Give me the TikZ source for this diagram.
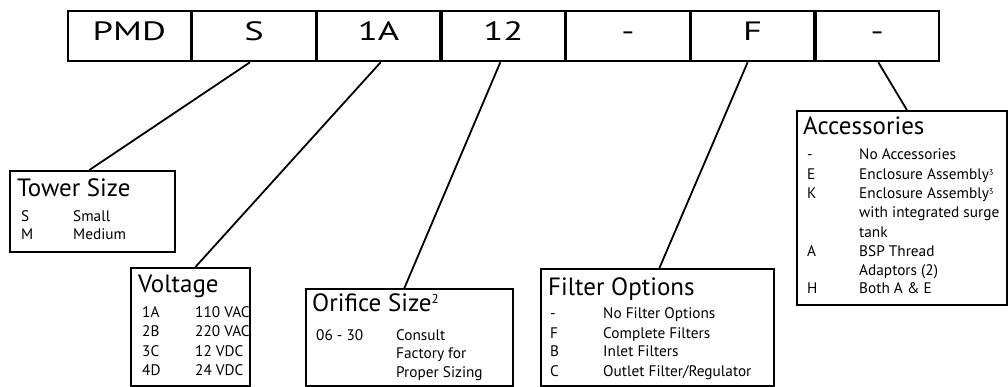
\documentclass[tikz,border=0pt]{standalone}
\usepackage{fontspec}
\setmainfont{PT Sans}
\newfontfamily\widefont[FakeStretch=1.38]{PT Sans}
\newcommand\tsup[1]{{\fontsize{13}{13}\selectfont\raisebox{7.5pt}{#1}}}
\newcommand\isup[1]{{\fontsize{8.5}{9}\selectfont\raisebox{4.6pt}{#1}}}
\begin{document}
\begin{tikzpicture}[x=1pt,y=-1pt,
  cell/.style={draw, line width=1.8pt, minimum width=122.86pt, minimum height=50pt,
    text height=18.6pt, text depth=10pt, inner sep=0pt, anchor=north west,
    font=\widefont\fontsize{26.5}{32}\selectfont},
  box/.style={draw, line width=1.8pt, inner sep=0pt, anchor=north west},
  ttl/.style={anchor=base west, inner sep=0pt, font=\fontsize{25}{29}\selectfont},
  item/.style={anchor=base west, inner sep=0pt, font=\fontsize{15.3}{18}\selectfont},
  link/.style={draw, line width=1.8pt}
]
\useasboundingbox (0,0) rectangle (1008,387);

% top code row
\node[cell] (c1) at (67,10.5) {PMD};
\node[cell] (c2) at (c1.north east) {S};
\node[cell] (c3) at (c2.north east) {1A};
\node[cell] (c4) at (c3.north east) {12};
\node[cell] (c5) at (c4.north east) {-};
\node[cell] (c6) at (c5.north east) {F};
\node[cell] (c7) at (c6.north east) {-};

% boxes
\node[box, minimum width=165pt, minimum height=81pt] (tower) at (9,170) {};
\node[box, minimum width=119pt, minimum height=118pt] (volt) at (130,267) {};
\node[box, minimum width=207pt, minimum height=97pt] (orif) at (305,288) {};
\node[box, minimum width=233pt, minimum height=117pt] (filt) at (540,268) {};
\node[box, minimum width=210pt, minimum height=194pt] (acc) at (796,110) {};

% connectors
\draw[link] ([xshift=-4pt]c2.south) -- ([xshift=-3pt]tower.north);
\draw[link] ([xshift=2pt]c3.south) -- ([xshift=5pt]volt.north);
\draw[link] ([xshift=-3pt]c4.south) -- ([xshift=-5pt]orif.north);
\draw[link] ([xshift=-5pt]c6.south) -- ([xshift=2pt]filt.north);
\draw[link] ([xshift=1pt]c7.south) -- ([xshift=5pt]acc.north);

% Tower Size
\node[ttl] (tt) at (17,197) {Tower Size};
\foreach \c/\d/\y [count=\i] in {S/Small/222, M/Medium/240}{
  \node[item] (tc\i) at (21,\y) {\c};
  \node[item] (td\i) at (73,\y) {\d};
}

% Voltage
\node[ttl] (vt) at (138,292) {Voltage};
\foreach \c/\d/\y [count=\i] in {1A/110 VAC/317, 2B/220 VAC/336.7, 3C/12 VDC/356, 4D/24 VDC/375}{
  \node[item] (vc\i) at (142,\y) {\c};
  \node[item] (vd\i) at (195,\y) {\d};
}

% Orifice Size
\node[ttl] (ot) at (312,311) {Orifice Size\tsup{2}};
\node[item] (oc1) at (316,340) {06 - 30};
\node[item] (od1) at (396,340) {Consult};
\node[item] (od2) at (396,358.5) {Factory for};
\node[item] (od3) at (396,377) {Proper Sizing};

% Filter Options
\node[ttl] (ft) at (548,295) {Filter Options};
\foreach \c/\d/\y [count=\i] in {-/No Filter Options/318.3, F/Complete Filters/338.3, B/Inlet Filters/356.7, C/Outlet Filter\slash Regulator/376}{
  \node[item] (fc\i) at (550,\y) {\c};
  \node[item] (fd\i) at (603,\y) {\d};
}

% Accessories
\node[ttl] (at) at (803,135) {Accessories};
\foreach \c/\y [count=\i] in {-/160, E/180, K/199, A/256, H/293}{
  \node[item] (ac\i) at (807,\y) {\c};
}
\node[item] (ad1) at (859,160) {No Accessories};
\node[item] (ad2) at (859,180) {Enclosure Assembly\isup{3}};
\node[item] (ad3) at (859,199) {Enclosure Assembly\isup{3}};
\node[item] (ad4) at (859,218) {with integrated surge};
\node[item] (ad5) at (859,237) {tank};
\node[item] (ad6) at (859,256) {BSP Thread};
\node[item] (ad7) at (859,275) {Adaptors (2)};
\node[item] (ad8) at (859,293) {Both A \& E};
\end{tikzpicture}
\end{document}
